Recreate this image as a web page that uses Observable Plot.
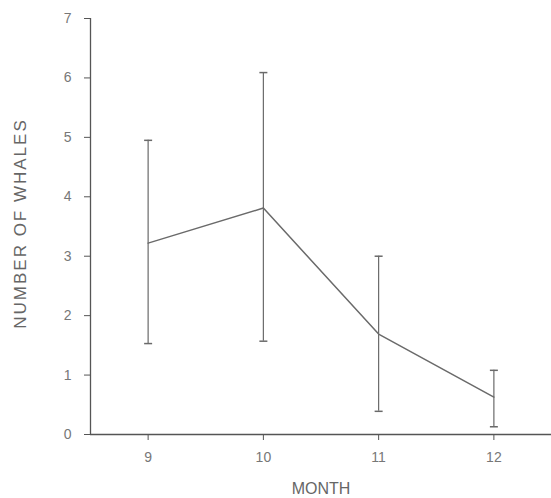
<!DOCTYPE html>
<html><head><meta charset="utf-8">
<script src="https://cdn.jsdelivr.net/npm/d3@7"></script>
<script src="https://cdn.jsdelivr.net/npm/@observablehq/plot@0.6"></script>
<style>body{margin:0;background:#fff} .spaced text{letter-spacing:2px}</style>
</head><body><div id="chart"></div>
<script>
const months = [9, 10, 11, 12];
const means = [3.22, 3.81, 1.69, 0.63];
const upper = [4.95, 6.09, 3.0, 1.08];
const lower = [1.53, 1.57, 0.39, 0.13];
const yTicks = [0, 1, 2, 3, 4, 5, 6, 7];

const data = months.map((m, i) => ({month: m, mean: means[i], hi: upper[i], lo: lower[i]}));
const caps = data.flatMap(d => [{month: d.month, v: d.hi}, {month: d.month, v: d.lo}]);

const capSymbol = {draw(ctx, size) { const w = Math.sqrt(size / Math.PI); ctx.moveTo(-w, 0); ctx.lineTo(w, 0); }};
const gray = "#6a6a6a";

const chart = Plot.plot({
  width: 551, height: 498,
  marginLeft: 90, marginRight: 0, marginTop: 18, marginBottom: 64,
  style: {fontFamily: "Liberation Sans, Arial, sans-serif", fontSize: "13px", color: "#777", background: "#fff"},
  x: {domain: [8.5, 12.5]},
  y: {domain: [0, 7]},
  marks: [
    Plot.axisY(yTicks, {tickSize: 6, tickPadding: 13, tickFormat: "d", stroke: "#555", fontSize: 14, label: null}),
    Plot.axisX(months, {tickSize: 6, tickPadding: 12, tickFormat: "d", stroke: "#555", fontSize: 14, label: null}),
    Plot.text(["NUMBER OF WHALES"], {frameAnchor: "left", textAnchor: "middle", dx: -70, dy: -3, rotate: -90, fontSize: 17, fill: "#666", text: d => d, className: "spaced"}),
    Plot.text(["MONTH"], {frameAnchor: "bottom", dy: 59, fontSize: 16, fill: "#666", text: d => d}),
    Plot.ruleX([8.5], {y1: 0, y2: 7, stroke: "#555", strokeWidth: 1.3}),
    Plot.ruleY([0], {stroke: "#555", strokeWidth: 1.5}),
    Plot.ruleX(data, {x: "month", y1: "lo", y2: "hi", stroke: gray, strokeWidth: 1.2}),
    Plot.dot(caps, {x: "month", y: "v", symbol: capSymbol, r: 4, stroke: gray, strokeWidth: 1.5, fill: "none"}),
    Plot.line(data, {x: "month", y: "mean", stroke: gray, strokeWidth: 1.5})
  ]
});
document.getElementById("chart").appendChild(chart);
</script>
</body></html>
